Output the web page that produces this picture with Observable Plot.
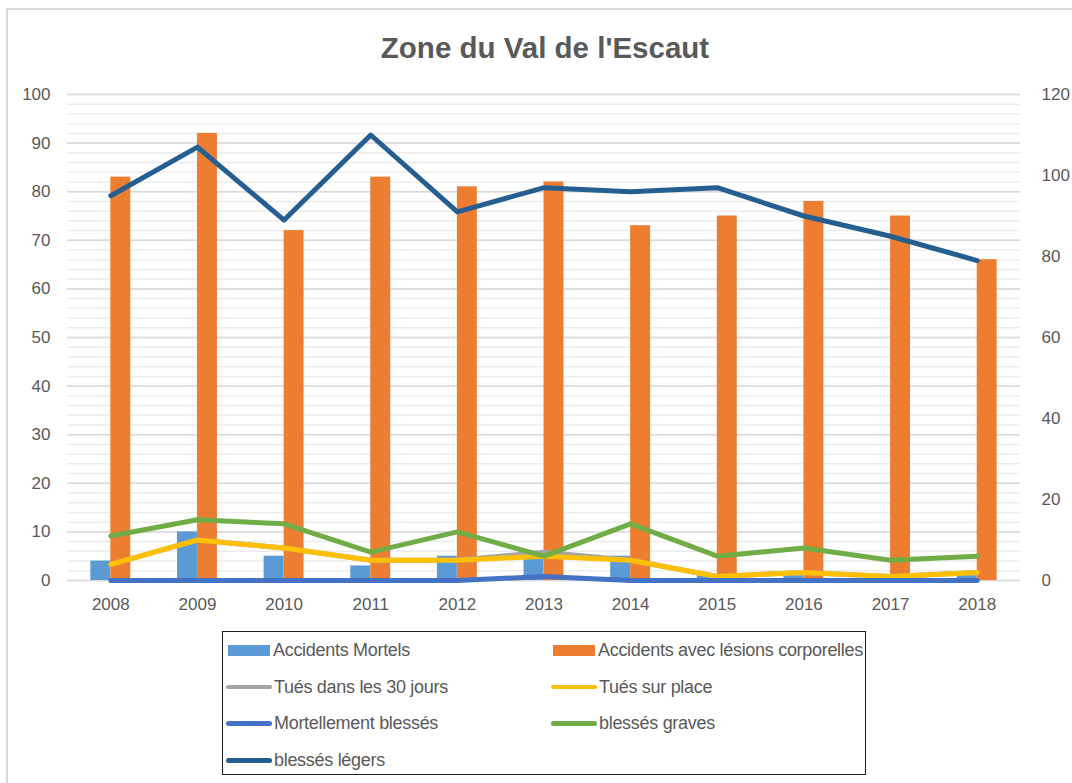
<!DOCTYPE html>
<html>
<head>
<meta charset="utf-8">
<script src="https://cdn.jsdelivr.net/npm/d3@7"></script>
<script src="https://cdn.jsdelivr.net/npm/@observablehq/plot@0.6"></script>
<style>
  html, body { margin: 0; padding: 0; background: #ffffff; overflow: hidden; width: 1072px; height: 783px; }
  #frame { position: absolute; left: 6px; top: 8px; width: 1120px; height: 820px; border: 2px solid #d9d9d9; box-sizing: border-box; }
  #title { position: absolute; left: 0; top: 33px; width: 1090px; text-align: center;
           font-family: "Liberation Sans", Arial, sans-serif; font-weight: bold; font-size: 29.5px; line-height: 29px; color: #595959; }
  #chart { position: absolute; left: 0; top: 0; }
  #legend { position: absolute; left: 222px; top: 631px; width: 644px; height: 144px; border: 1.5px solid #1e1e1e;
            box-sizing: border-box; display: grid; grid-template-columns: 325px 317px;
            grid-auto-rows: 36.7px; font-family: "Liberation Sans", Arial, sans-serif; font-size: 18px; letter-spacing: -0.3px; color: #595959; }
  .item { display: flex; align-items: center; white-space: nowrap; padding-left: 3px; }
  .sw { display: inline-block; margin-right: 2px; flex: none; }
</style>
</head>
<body>
<div id="frame"></div>
<div id="title">Zone du Val de l'Escaut</div>
<div id="chart"></div>
<div id="legend"></div>
<script>
// ---- data ----
const years = ["2008","2009","2010","2011","2012","2013","2014","2015","2016","2017","2018"];
const accidentsMortels = [4, 10, 5, 3, 5, 6, 5, 1, 1, 0, 1];
const accidentsLesions = [83, 92, 72, 83, 81, 82, 73, 75, 78, 75, 66];
const tuesDans30Jours = [4, 10, 8, 5, 5, 7, 5, 1, 2, 1, 2];
const tuesSurPlace = [4, 10, 8, 5, 5, 6, 5, 1, 2, 1, 2];
const mortellementBlesses = [0, 0, 0, 0, 0, 1, 0, 0, 0, 0, 0];
const blessesGraves = [11, 15, 14, 7, 12, 6, 14, 6, 8, 5, 6];
const blessesLegers = [95, 107, 89, 110, 91, 97, 96, 97, 90, 85, 79];
const leftTicks = [0, 10, 20, 30, 40, 50, 60, 70, 80, 90, 100];
const rightTicks = [0, 20, 40, 60, 80, 100, 120];
const leftMax = 100, rightMax = 120;

const barSeries = [
  {name: "Accidents Mortels", values: accidentsMortels},
  {name: "Accidents avec lésions corporelles", values: accidentsLesions}
];
const lineSeries = [
  {name: "Tués dans les 30 jours", values: tuesDans30Jours},
  {name: "Tués sur place", values: tuesSurPlace},
  {name: "Mortellement blessés", values: mortellementBlesses},
  {name: "blessés graves", values: blessesGraves},
  {name: "blessés légers", values: blessesLegers}
];
// styles
const barColors = ["#5B9BD5", "#ED7D31"];
const lineColors = ["#A5A5A5", "#FFC000", "#4472C4", "#70AD47", "#255E91"];

const rows = (s) => years.map((y, i) => ({year: y, value: s.values[i], series: s.name}));
const toLeft = (v) => v * leftMax / rightMax;
const minorTicks = d3.range(0, leftMax + 0.001, 2);

const marks = [
  Plot.ruleY(minorTicks, {stroke: "#ececec", strokeWidth: 1.5}),
  Plot.ruleY(leftTicks, {stroke: "#d9d9d9", strokeWidth: 1.5}),
  Plot.barY(rows(barSeries[0]), {x: "year", y: "value", fill: barColors[0], insetRight: 20}),
  Plot.barY(rows(barSeries[1]), {x: "year", y: "value", fill: barColors[1], insetLeft: 20})
];
lineSeries.forEach((s, i) => {
  marks.push(Plot.lineY(rows(s), {x: "year", y: d => toLeft(d.value), stroke: lineColors[i],
    strokeWidth: 5, strokeLinejoin: "round", strokeLinecap: "round"}));
});
marks.push(
  Plot.axisX({tickSize: 0, tickPadding: 17, fontSize: 17, fill: "#595959"}),
  Plot.axisY(leftTicks, {tickSize: 0, tickPadding: 17, label: null, fontSize: 17, fill: "#595959"}),
  Plot.axisY(rightTicks.map(toLeft), {anchor: "right", tickSize: 0, tickPadding: 21, label: null,
    tickFormat: d => String(Math.round(d * rightMax / leftMax)), fontSize: 17, fill: "#595959"})
);

const chart = Plot.plot({
  width: 1072, height: 625,
  marginTop: 94, marginBottom: 45, marginLeft: 67, marginRight: 52,
  x: {type: "band", domain: years, paddingInner: 0.539, paddingOuter: 0.2695, round: false, label: null},
  y: {domain: [0, leftMax], label: null},
  style: {fontFamily: "Liberation Sans, Arial, sans-serif", fontSize: "17px", color: "#595959", background: "transparent", overflow: "visible"},
  marks
});
document.getElementById("chart").appendChild(chart);

// ---- legend ----
const legend = document.getElementById("legend");
const legendItems = [
  {name: barSeries[0].name, kind: "bar", color: barColors[0]},
  {name: barSeries[1].name, kind: "bar", color: barColors[1]},
  ...lineSeries.map((s, i) => ({name: s.name, kind: "line", color: lineColors[i]}))
];
legendItems.forEach(it => {
  const div = document.createElement("div");
  div.className = "item";
  const sw = document.createElement("span");
  sw.className = "sw";
  if (it.kind === "bar") {
    sw.style.cssText = `width:42px;height:11px;background:${it.color};margin-left:2px;margin-right:3px;`;
  } else {
    sw.style.cssText = `width:46px;height:4.5px;border-radius:3px;background:${it.color};`;
  }
  const tx = document.createElement("span");
  tx.textContent = it.name;
  div.appendChild(sw); div.appendChild(tx);
  legend.appendChild(div);
});
</script>
</body>
</html>
